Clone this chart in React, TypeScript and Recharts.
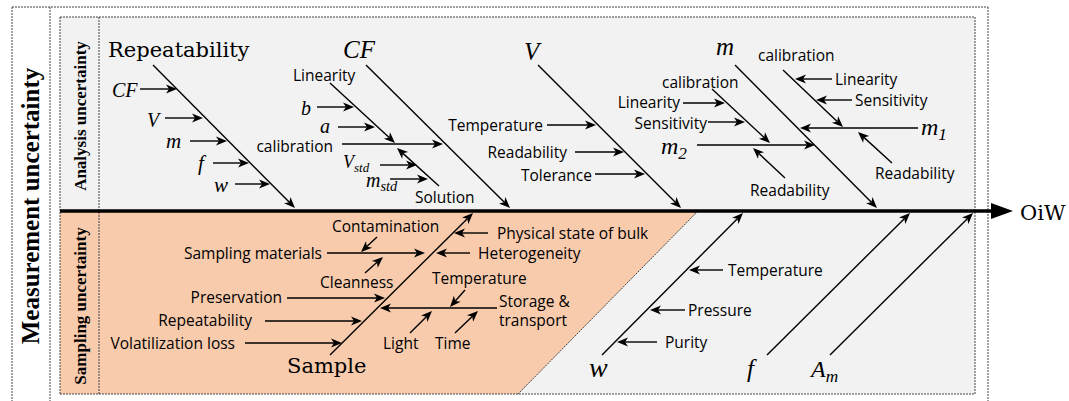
import React from 'react';
import { ComposedChart, XAxis, YAxis, Area, Scatter, ReferenceLine } from 'recharts';

const W = 1069;
const H = 401;

type Seg = [number, number, number, number];

// dashed frame lines
const frameLines: Seg[] = [
  [12, 7, 988, 7],
  [12, 7, 12, 401],
  [50, 7, 50, 401],
  [988, 7, 988, 401],
  [60, 17, 975, 17],
  [60, 17, 60, 394],
  [975, 17, 975, 394],
  [60, 394, 975, 394],
  [99, 17, 99, 394],
  [698, 211, 518, 394],
];

const spine: Seg = [60, 211, 1013, 211];

// main cause bones (arrow at the spine)
const causeBones: Seg[] = [
  [153, 65, 295, 208], // Repeatability
  [366, 65, 510, 208], // CF
  [538, 65, 681, 208], // V
  [735, 65, 877, 208], // m
  [330, 355, 473, 213], // Sample
  [602, 355, 743, 213], // w
  [767, 355, 910, 213], // f
  [830, 355, 973, 213], // A_m
];

// sub-causes (arrow at second point)
const subBones: Seg[] = [
  [140, 89, 177, 89],
  [165, 118, 203, 118],
  [190, 141, 227, 141],
  [213, 163, 249, 163],
  [235, 184, 270, 184],
  [330, 83, 395, 143],
  [317, 107, 354, 107],
  [338, 127, 375, 127],
  [342, 144, 443, 144],
  [439, 186, 397, 148],
  [380, 165, 417, 165],
  [390, 179, 428, 179],
  [547, 125, 596, 125],
  [575, 152, 624, 152],
  [595, 174, 645, 174],
  [918, 128, 800, 128],
  [783, 70, 843, 127],
  [832, 79, 795, 79],
  [852, 100, 816, 100],
  [892, 163, 858, 132],
  [697, 145, 815, 145],
  [712, 89, 770, 143],
  [683, 103, 725, 103],
  [708, 122, 745, 122],
  [785, 178, 753, 148],
  [488, 233, 454, 233],
  [470, 253, 436, 253],
  [327, 253, 425, 253],
  [377, 237, 361, 252],
  [365, 273, 383, 257],
  [287, 298, 385, 298],
  [265, 321, 362, 321],
  [245, 343, 342, 343],
  [497, 308, 380, 308],
  [465, 290, 450, 307],
  [410, 333, 432, 311],
  [455, 333, 478, 311],
  [723, 270, 689, 270],
  [685, 310, 650, 310],
  [657, 342, 617, 342],
];

const analysisBand = [
  { x: 60, band: [17, 394] },
  { x: 975, band: [17, 394] },
];
const samplingBand = [
  { x: 60, band: [211, 394] },
  { x: 518, band: [211, 394] },
  { x: 698, band: [211, 211] },
];

type Label = { x: number; y: number; text: string; sub?: string; kind: string; size?: number; anchor?: string };

const serifLabels: Label[] = [
  { x: 108, y: 57, text: 'Repeatability', kind: 'serif' },
  { x: 287, y: 373, text: 'Sample', kind: 'serif' },
  { x: 1020, y: 220, text: 'OiW', kind: 'serif' },
];

const mathLabels: Label[] = [
  { x: 343, y: 58, text: 'CF', kind: 'math', size: 25 },
  { x: 524, y: 60, text: 'V', kind: 'math', size: 25 },
  { x: 716, y: 55, text: 'm', kind: 'math', size: 25 },
  { x: 589, y: 377, text: 'w', kind: 'math', size: 28 },
  { x: 747, y: 377, text: 'f', kind: 'math', size: 25 },
  { x: 811, y: 377, text: 'A', sub: 'm', kind: 'math', size: 24 },
  { x: 112, y: 97, text: 'CF', kind: 'math', size: 20 },
  { x: 147, y: 127, text: 'V', kind: 'math', size: 20 },
  { x: 166, y: 148, text: 'm', kind: 'math', size: 21 },
  { x: 198, y: 170, text: 'f', kind: 'math', size: 21 },
  { x: 214, y: 192, text: 'w', kind: 'math', size: 21 },
  { x: 301, y: 115, text: 'b', kind: 'math', size: 20 },
  { x: 320, y: 133, text: 'a', kind: 'math', size: 20 },
  { x: 343, y: 168, text: 'V', sub: 'std', kind: 'math', size: 18 },
  { x: 366, y: 187, text: 'm', sub: 'std', kind: 'math', size: 20 },
  { x: 921, y: 135, text: 'm', sub: '1', kind: 'math', size: 24 },
  { x: 661, y: 154, text: 'm', sub: '2', kind: 'math', size: 24 },
];

const sansLabels: Label[] = [
  { x: 293, y: 75, text: 'Linearity', kind: 'sans' },
  { x: 333, y: 146, text: 'calibration', kind: 'sans', anchor: 'end' },
  { x: 415, y: 197, text: 'Solution', kind: 'sans' },
  { x: 543, y: 125, text: 'Temperature', kind: 'sans', anchor: 'end' },
  { x: 567, y: 152, text: 'Readability', kind: 'sans', anchor: 'end' },
  { x: 592, y: 175, text: 'Tolerance', kind: 'sans', anchor: 'end' },
  { x: 758, y: 55, text: 'calibration', kind: 'sans' },
  { x: 835, y: 79, text: 'Linearity', kind: 'sans' },
  { x: 855, y: 100, text: 'Sensitivity', kind: 'sans' },
  { x: 875, y: 173, text: 'Readability', kind: 'sans' },
  { x: 662, y: 82, text: 'calibration', kind: 'sans' },
  { x: 680, y: 102, text: 'Linearity', kind: 'sans', anchor: 'end' },
  { x: 707, y: 123, text: 'Sensitivity', kind: 'sans', anchor: 'end' },
  { x: 750, y: 190, text: 'Readability', kind: 'sans' },
  { x: 332, y: 226, text: 'Contamination', kind: 'sans' },
  { x: 322, y: 253, text: 'Sampling materials', kind: 'sans', anchor: 'end' },
  { x: 320, y: 282, text: 'Cleanness', kind: 'sans' },
  { x: 282, y: 297, text: 'Preservation', kind: 'sans', anchor: 'end' },
  { x: 252, y: 320, text: 'Repeatability', kind: 'sans', anchor: 'end' },
  { x: 235, y: 343, text: 'Volatilization loss', kind: 'sans', anchor: 'end' },
  { x: 497, y: 233, text: 'Physical state of bulk', kind: 'sans' },
  { x: 478, y: 253, text: 'Heterogeneity', kind: 'sans' },
  { x: 432, y: 278, text: 'Temperature', kind: 'sans' },
  { x: 499, y: 301, text: 'Storage &', kind: 'sans' },
  { x: 499, y: 320, text: 'transport', kind: 'sans' },
  { x: 383, y: 343, text: 'Light', kind: 'sans' },
  { x: 435, y: 343, text: 'Time', kind: 'sans' },
  { x: 728, y: 270, text: 'Temperature', kind: 'sans' },
  { x: 688, y: 310, text: 'Pressure', kind: 'sans' },
  { x: 665, y: 342, text: 'Purity', kind: 'sans' },
];

const sideLabels: Label[] = [
  { x: 30, y: 206, text: 'Measurement uncertainty', kind: 'vert', size: 25 },
  { x: 80, y: 116, text: 'Analysis uncertainty', kind: 'vert', size: 17 },
  { x: 80, y: 306, text: 'Sampling uncertainty', kind: 'vert', size: 17 },
];

const INK = '#000';

const arrowLine = (len: number, half: number, notch: number, width: number) => (p: any) => {
  const { x1, y1, x2, y2 } = p;
  const dx = x2 - x1;
  const dy = y2 - y1;
  const d = Math.hypot(dx, dy) || 1;
  const ux = dx / d;
  const uy = dy / d;
  const bx = x2 - ux * len;
  const by = y2 - uy * len;
  const nx = x2 - ux * (len - notch);
  const ny = y2 - uy * (len - notch);
  const pts = [
    [x2, y2],
    [bx - uy * half, by + ux * half],
    [nx, ny],
    [bx + uy * half, by - ux * half],
  ]
    .map((q) => q.join(','))
    .join(' ');
  return (
    <g>
      <line x1={x1} y1={y1} x2={nx} y2={ny} stroke={INK} strokeWidth={width} />
      <polygon points={pts} fill={INK} />
    </g>
  );
};

const renderLabel = (p: any) => {
  const d: Label = p.payload;
  const { cx, cy } = p;
  if (d.kind === 'vert') {
    return (
      <text
        x={cx}
        y={cy}
        transform={`rotate(-90 ${cx} ${cy})`}
        textAnchor="middle"
        dominantBaseline="central"
        fontFamily="'Liberation Serif', serif"
        fontWeight="bold"
        fontSize={d.size}
        fill={INK}
      >
        {d.text}
      </text>
    );
  }
  if (d.kind === 'sans') {
    return (
      <text
        x={cx}
        y={cy}
        textAnchor={d.anchor || 'start'}
        dominantBaseline="central"
        fontFamily="'Open Sans', sans-serif"
        fontSize={15.5}
        fill={INK}
      >
        {d.text}
      </text>
    );
  }
  if (d.kind === 'serif') {
    return (
      <text x={cx} y={cy} fontFamily="'DejaVu Serif', serif" fontSize={21} fill={INK}>
        {d.text}
      </text>
    );
  }
  const size = d.size || 20;
  return (
    <text x={cx} y={cy} fontFamily="'Liberation Serif', serif" fontStyle="italic" fontSize={size} fill={INK}>
      {d.text}
      {d.sub ? (
        <tspan fontSize={size * 0.72} dy={size * 0.22}>
          {d.sub}
        </tspan>
      ) : null}
    </text>
  );
};

const seg = (s: Seg) => [
  { x: s[0], y: s[1] },
  { x: s[2], y: s[3] },
];

export default function App() {
  const allLabels = [...serifLabels, ...mathLabels, ...sansLabels, ...sideLabels];
  return (
    <div style={{ position: 'absolute', left: 0, top: 0, background: '#fff' }}>
      <ComposedChart width={W} height={H} margin={{ top: 0, right: 0, bottom: 0, left: 0 }}>
        <XAxis type="number" dataKey="x" domain={[0, W]} hide allowDataOverflow />
        <YAxis type="number" dataKey="y" domain={[0, H]} reversed hide allowDataOverflow />
        <Area
          data={analysisBand}
          dataKey="band"
          type="linear"
          fill="#f2f2f2"
          fillOpacity={1}
          stroke="none"
          isAnimationActive={false}
        />
        <Area
          data={samplingBand}
          dataKey="band"
          type="linear"
          fill="#f8cbad"
          fillOpacity={1}
          stroke="none"
          isAnimationActive={false}
        />
        {frameLines.map((s, i) => (
          <ReferenceLine
            key={`f${i}`}
            segment={seg(s)}
            stroke="#444"
            strokeWidth={1}
            strokeDasharray="2 1"
            ifOverflow="visible"
          />
        ))}
        {causeBones.map((s, i) => (
          <ReferenceLine key={`c${i}`} segment={seg(s)} ifOverflow="visible" shape={arrowLine(11, 4.5, 3, 1.4)} />
        ))}
        {subBones.map((s, i) => (
          <ReferenceLine key={`s${i}`} segment={seg(s)} ifOverflow="visible" shape={arrowLine(11, 4.5, 3, 1.4)} />
        ))}
        <ReferenceLine segment={seg(spine)} ifOverflow="visible" shape={arrowLine(22, 8, 0, 3.5)} />
        <Scatter data={allLabels} shape={renderLabel} isAnimationActive={false} />
      </ComposedChart>
    </div>
  );
}
